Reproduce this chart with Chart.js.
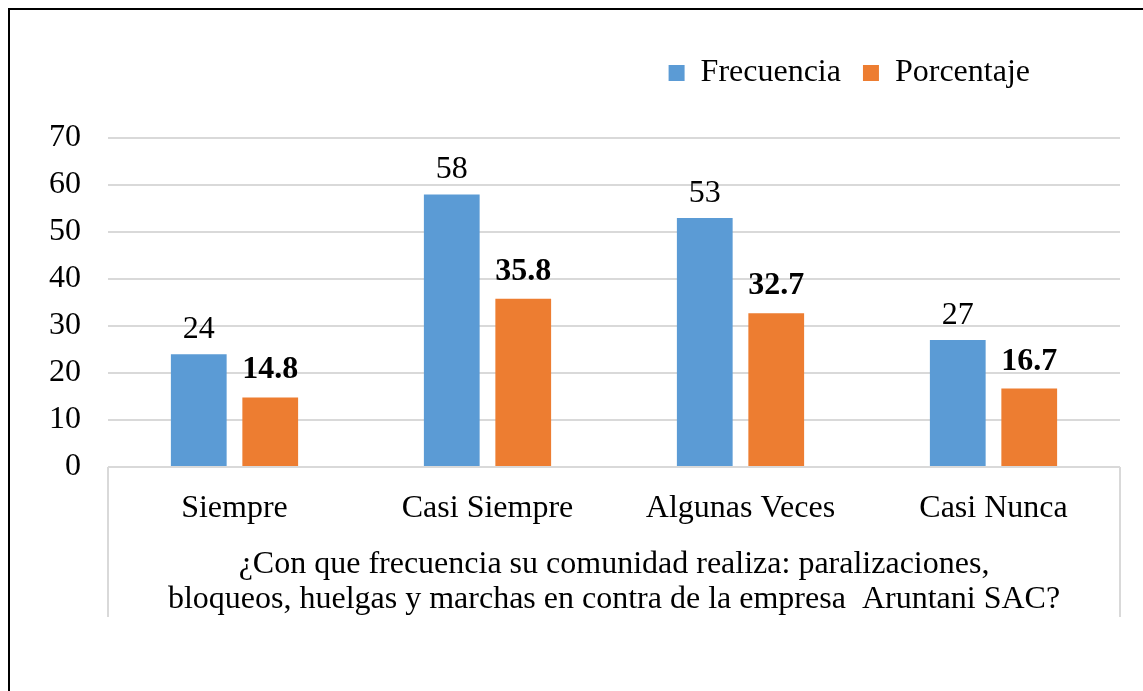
<!DOCTYPE html>
<html>
<head>
<meta charset="utf-8">
<script src="https://cdn.jsdelivr.net/npm/chart.js@4"></script>
<style>
  body { margin: 0; background: #fff; }
  #wrap { position: relative; width: 1143px; height: 691px; }
  #marco { position: absolute; left: 8px; top: 8px; right: -10px; bottom: -10px;
           border-left: 2px solid #000; border-top: 2px solid #000; pointer-events: none; }
</style>
</head>
<body>
<div id="wrap">
  <canvas id="grafico"></canvas>
  <div id="marco"></div>
</div>
<script>
// datos del grafico
const categorias = ["Siempre", "Casi Siempre", "Algunas Veces", "Casi Nunca"];
const frecuencia = [24, 58, 53, 27];
const porcentaje = [14.8, 35.8, 32.7, 16.7];
const tituloEje = ["¿Con que frecuencia su comunidad realiza: paralizaciones,",
                   "bloqueos, huelgas y marchas en contra de la empresa  Aruntani SAC?"];

const fuente = { family: "'Liberation Serif', 'Times New Roman', serif", size: 32 };

// etiquetas encima de las barras
const etiquetas = {
  id: 'etiquetas',
  afterDatasetsDraw(chart) {
    const ctx = chart.ctx;
    ctx.save();
    ctx.fillStyle = '#000';
    ctx.textAlign = 'center';
    ctx.textBaseline = 'alphabetic';
    chart.data.datasets.forEach((ds, i) => {
      const meta = chart.getDatasetMeta(i);
      ctx.font = (i === 1 ? 'bold ' : '') + fuente.size + 'px ' + fuente.family;
      meta.data.forEach((bar, j) => {
        const txt = i === 1 ? ds.data[j].toFixed(1) : String(ds.data[j]);
        ctx.fillText(txt, bar.x, bar.y - (i === 1 ? 19 : 16));
      });
    });
    ctx.restore();
  }
};

// lineas laterales del eje de categorias
const cajaEje = {
  id: 'cajaEje',
  afterDraw(chart) {
    const x = chart.scales.x;
    const ctx = chart.ctx;
    ctx.save();
    ctx.strokeStyle = '#d9d9d9';
    ctx.lineWidth = 2;
    ctx.beginPath();
    ctx.moveTo(x.left, x.top);
    ctx.lineTo(x.left, x.bottom);
    ctx.moveTo(x.right, x.top);
    ctx.lineTo(x.right, x.bottom);
    ctx.stroke();
    ctx.restore();
  }
};

// mover la leyenda
const moverLeyenda = {
  id: 'moverLeyenda',
  afterLayout(chart) {
    const lg = chart.legend;
    lg.right -= 68;
    lg.top -= 39;
    lg.bottom -= 39;
  }
};

new Chart(document.getElementById('grafico'), {
  type: 'bar',
  data: {
    labels: categorias,
    datasets: [
      { label: 'Frecuencia', data: frecuencia, backgroundColor: '#5B9BD5' },
      { label: 'Porcentaje', data: porcentaje, backgroundColor: '#ED7D31' }
    ]
  },
  options: {
    responsive: true,
    maintainAspectRatio: false,
    animation: false,
    categoryPercentage: 0.565,
    barPercentage: 0.78,
    layout: { padding: { top: 74, right: 23, bottom: 74, left: 0 } },
    plugins: {
      tooltip: { enabled: false },
      legend: {
        position: 'top',
        align: 'end',
        labels: {
          font: fuente,
          color: '#000',
          boxWidth: 16,
          boxHeight: 16,
          padding: 22
        }
      }
    },
    scales: {
      x: {
        grid: { display: false },
        border: { display: false },
        ticks: { font: fuente, color: '#000', padding: 14 },
        title: {
          display: true,
          text: tituloEje,
          font: { family: fuente.family, size: 32, lineHeight: 1.1 },
          color: '#000',
          padding: { top: 0, bottom: 0 }
        },
        afterFit(scale) { scale.height = 150; }
      },
      y: {
        min: 0,
        max: 70,
        ticks: { stepSize: 10, font: fuente, color: '#000', padding: 27 },
        grid: { color: '#d9d9d9', lineWidth: 2, drawTicks: false },
        border: { display: false },
        afterFit(scale) { scale.width = 108; }
      }
    }
  },
  plugins: [etiquetas, cajaEje, moverLeyenda]
});
</script>
</body>
</html>
